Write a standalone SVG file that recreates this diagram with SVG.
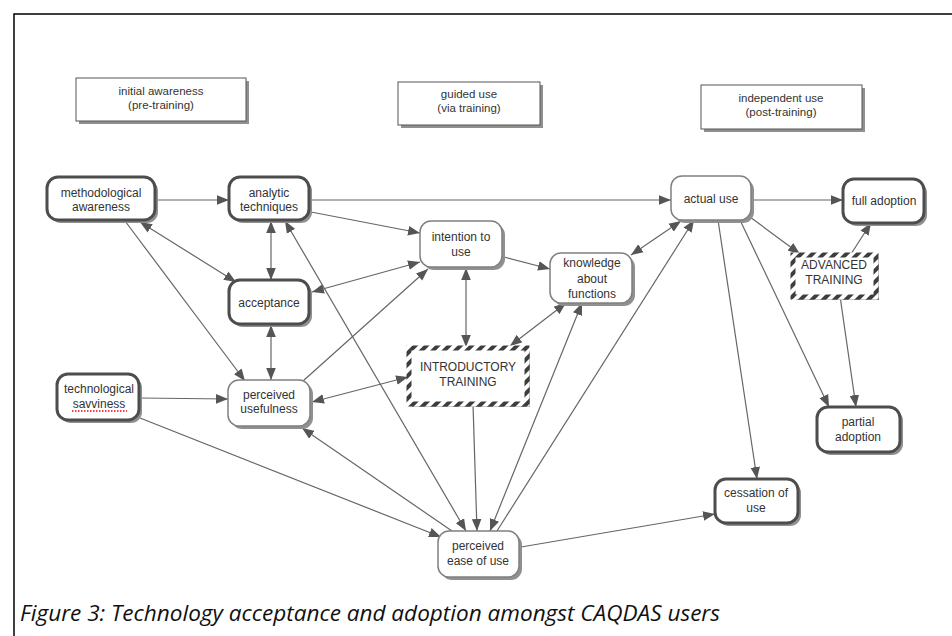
<svg xmlns="http://www.w3.org/2000/svg" width="952" height="636" viewBox="0 0 952 636">
<style>
.t{font-family:"Liberation Sans",Arial,sans-serif;font-size:12px;fill:#333;text-anchor:middle}
.hd{font-family:"Liberation Sans",Arial,sans-serif;font-size:11.5px;fill:#333;text-anchor:middle}
.sh{fill:#909090}
.thick{fill:#fff;stroke:#4d4d4d;stroke-width:3}
.thin{fill:#fff;stroke:#808080;stroke-width:1.5}
.lbl{fill:#fff;stroke:#555;stroke-width:1}
.hatch{fill:#fff;stroke:url(#hatch);stroke-width:5}
.c{fill:none;stroke:#666;stroke-width:1.2}
.cap{font-family:"Open Sans","Noto Sans",sans-serif;font-style:italic;font-size:22px;fill:#111}
</style>
<defs>
<pattern id="hatch" width="8" height="8" patternUnits="userSpaceOnUse" patternTransform="rotate(45)">
<rect width="8" height="8" fill="#fff"/><rect width="4" height="8" fill="#3d3d3d"/>
</pattern>
<marker id="a" viewBox="0 0 10 8" refX="10" refY="4" markerWidth="12" markerHeight="10" markerUnits="userSpaceOnUse" orient="auto-start-reverse">
<path d="M0,0 L10,4 L0,8 z" fill="#555"/>
</marker>
</defs>
<rect width="952" height="636" fill="#fff"/>
<path d="M14,636 V14 H952" fill="none" stroke="#000" stroke-width="1.5"/>

<g id="phase-initial">
<rect class="sh" x="79" y="81" width="170" height="43"/>
<rect class="lbl" x="76" y="78" width="170" height="43"/>
<text class="hd" x="161" y="95">initial awareness</text>
<text class="hd" x="161" y="109">(pre-training)</text>
</g>
<g id="phase-guided">
<rect class="sh" x="401" y="85" width="142" height="43"/>
<rect class="lbl" x="398" y="82" width="142" height="43"/>
<text class="hd" x="469" y="98">guided use</text>
<text class="hd" x="469" y="112">(via training)</text>
</g>
<g id="phase-independent">
<rect class="sh" x="704" y="88" width="161" height="44"/>
<rect class="lbl" x="701" y="85" width="161" height="44"/>
<text class="hd" x="781" y="102">independent use</text>
<text class="hd" x="781" y="116">(post-training)</text>
</g>

<g id="connectors">
<line class="c" x1="155" y1="200" x2="229" y2="200" marker-end="url(#a)"/>
<line class="c" x1="311" y1="200" x2="671" y2="200" marker-end="url(#a)"/>
<line class="c" x1="753" y1="200" x2="843" y2="200" marker-end="url(#a)"/>
<line class="c" x1="140" y1="222" x2="236" y2="282" marker-start="url(#a)" marker-end="url(#a)"/>
<line class="c" x1="271" y1="221" x2="271" y2="280" marker-start="url(#a)" marker-end="url(#a)"/>
<line class="c" x1="271" y1="325" x2="271" y2="380" marker-start="url(#a)" marker-end="url(#a)"/>
<line class="c" x1="125" y1="221" x2="245" y2="381" marker-end="url(#a)"/>
<line class="c" x1="311" y1="212" x2="420" y2="233" marker-end="url(#a)"/>
<line class="c" x1="312" y1="292" x2="420" y2="262" marker-start="url(#a)" marker-end="url(#a)"/>
<line class="c" x1="303" y1="381" x2="428" y2="269" marker-end="url(#a)"/>
<line class="c" x1="504" y1="257" x2="550" y2="269" marker-end="url(#a)"/>
<line class="c" x1="466" y1="268" x2="466" y2="347" marker-start="url(#a)" marker-end="url(#a)"/>
<line class="c" x1="631" y1="255" x2="681" y2="221" marker-start="url(#a)" marker-end="url(#a)"/>
<line class="c" x1="566" y1="303" x2="510" y2="346" marker-start="url(#a)" marker-end="url(#a)"/>
<line class="c" x1="312" y1="402" x2="408" y2="377" marker-start="url(#a)" marker-end="url(#a)"/>
<line class="c" x1="140" y1="398" x2="228" y2="399" marker-end="url(#a)"/>
<line class="c" x1="140" y1="418" x2="441" y2="537" marker-end="url(#a)"/>
<line class="c" x1="452" y1="531" x2="302" y2="428" marker-end="url(#a)"/>
<line class="c" x1="285" y1="221" x2="466" y2="531" marker-start="url(#a)" marker-end="url(#a)"/>
<line class="c" x1="473" y1="404" x2="477" y2="531" marker-end="url(#a)"/>
<line class="c" x1="582" y1="303" x2="490" y2="531" marker-start="url(#a)" marker-end="url(#a)"/>
<line class="c" x1="497" y1="531" x2="694" y2="220" marker-end="url(#a)"/>
<line class="c" x1="521" y1="547" x2="715" y2="514" marker-end="url(#a)"/>
<line class="c" x1="718" y1="220" x2="757" y2="479" marker-end="url(#a)"/>
<line class="c" x1="740" y1="220" x2="829" y2="407" marker-end="url(#a)"/>
<line class="c" x1="750" y1="217" x2="800" y2="254" marker-end="url(#a)"/>
<line class="c" x1="851" y1="254" x2="871" y2="223" marker-end="url(#a)"/>
<line class="c" x1="840" y1="296" x2="856" y2="407" marker-end="url(#a)"/>
</g>

<g id="methodological-awareness">
<rect class="sh" x="50" y="180" width="108" height="43" rx="11"/>
<rect class="thick" x="47" y="177" width="108" height="43" rx="11"/>
<text class="t" x="101" y="197">methodological</text>
<text class="t" x="101" y="211">awareness</text>
</g>
<g id="analytic-techniques">
<rect class="sh" x="232" y="180" width="80" height="43" rx="11"/>
<rect class="thick" x="229" y="177" width="80" height="43" rx="11"/>
<text class="t" x="269" y="197">analytic</text>
<text class="t" x="269" y="211">techniques</text>
</g>
<g id="acceptance">
<rect class="sh" x="232" y="283" width="80" height="44" rx="11"/>
<rect class="thick" x="229" y="280" width="80" height="44" rx="11"/>
<text class="t" x="269" y="307">acceptance</text>
</g>
<g id="intention-to-use">
<rect class="sh" x="423" y="224" width="82" height="46" rx="11"/>
<rect class="thin" x="420" y="221" width="82" height="46" rx="11"/>
<text class="t" x="461" y="241">intention to</text>
<text class="t" x="461" y="256">use</text>
</g>
<g id="knowledge-about-functions">
<rect class="sh" x="553" y="256" width="82" height="50" rx="11"/>
<rect class="thin" x="550" y="253" width="82" height="50" rx="11"/>
<text class="t" x="592" y="267">knowledge</text>
<text class="t" x="592" y="283">about</text>
<text class="t" x="592" y="298">functions</text>
</g>
<g id="actual-use">
<rect class="sh" x="674" y="179" width="80" height="44" rx="11"/>
<rect class="thin" x="671" y="176" width="80" height="44" rx="11"/>
<text class="t" x="711" y="203">actual use</text>
</g>
<g id="full-adoption">
<rect class="sh" x="846" y="182" width="81" height="44" rx="11"/>
<rect class="thick" x="843" y="179" width="81" height="44" rx="11"/>
<text class="t" x="884" y="205">full adoption</text>
</g>
<g id="advanced-training">
<rect class="sh" x="796" y="258" width="83" height="42"/>
<rect class="hatch" x="793" y="255" width="83" height="42"/>
<text class="t" x="834" y="269">ADVANCED</text>
<text class="t" x="834" y="284">TRAINING</text>
</g>
<g id="introductory-training">
<rect class="sh" x="412" y="351" width="118" height="56"/>
<rect class="hatch" x="409" y="348" width="118" height="56"/>
<text class="t" x="468" y="371">INTRODUCTORY</text>
<text class="t" x="468" y="386">TRAINING</text>
</g>
<g id="technological-savviness">
<rect class="sh" x="60" y="377" width="82" height="46" rx="11"/>
<rect class="thick" x="57" y="374" width="82" height="46" rx="11"/>
<text class="t" x="99" y="393">technological</text>
<text class="t" x="99" y="408">savviness</text>
<line x1="72" y1="411" x2="127" y2="411" stroke="#e00" stroke-width="1.5" stroke-dasharray="1.5 1.5"/>
</g>
<g id="perceived-usefulness">
<rect class="sh" x="231" y="383" width="82" height="46" rx="11"/>
<rect class="thin" x="228" y="380" width="82" height="46" rx="11"/>
<text class="t" x="269" y="399">perceived</text>
<text class="t" x="269" y="413">usefulness</text>
</g>
<g id="partial-adoption">
<rect class="sh" x="820" y="410" width="83" height="45" rx="11"/>
<rect class="thick" x="817" y="407" width="83" height="45" rx="11"/>
<text class="t" x="858" y="426">partial</text>
<text class="t" x="858" y="441">adoption</text>
</g>
<g id="cessation-of-use">
<rect class="sh" x="718" y="482" width="83" height="44" rx="11"/>
<rect class="thick" x="715" y="479" width="83" height="44" rx="11"/>
<text class="t" x="756" y="497">cessation of</text>
<text class="t" x="756" y="512">use</text>
</g>
<g id="perceived-ease-of-use">
<rect class="sh" x="441" y="534" width="81" height="46" rx="11"/>
<rect class="thin" x="438" y="531" width="81" height="46" rx="11"/>
<text class="t" x="478" y="550">perceived</text>
<text class="t" x="478" y="565">ease of use</text>
</g>

<text class="cap" x="20" y="621" textLength="700" lengthAdjust="spacingAndGlyphs">Figure 3: Technology acceptance and adoption amongst CAQDAS users</text>
</svg>
